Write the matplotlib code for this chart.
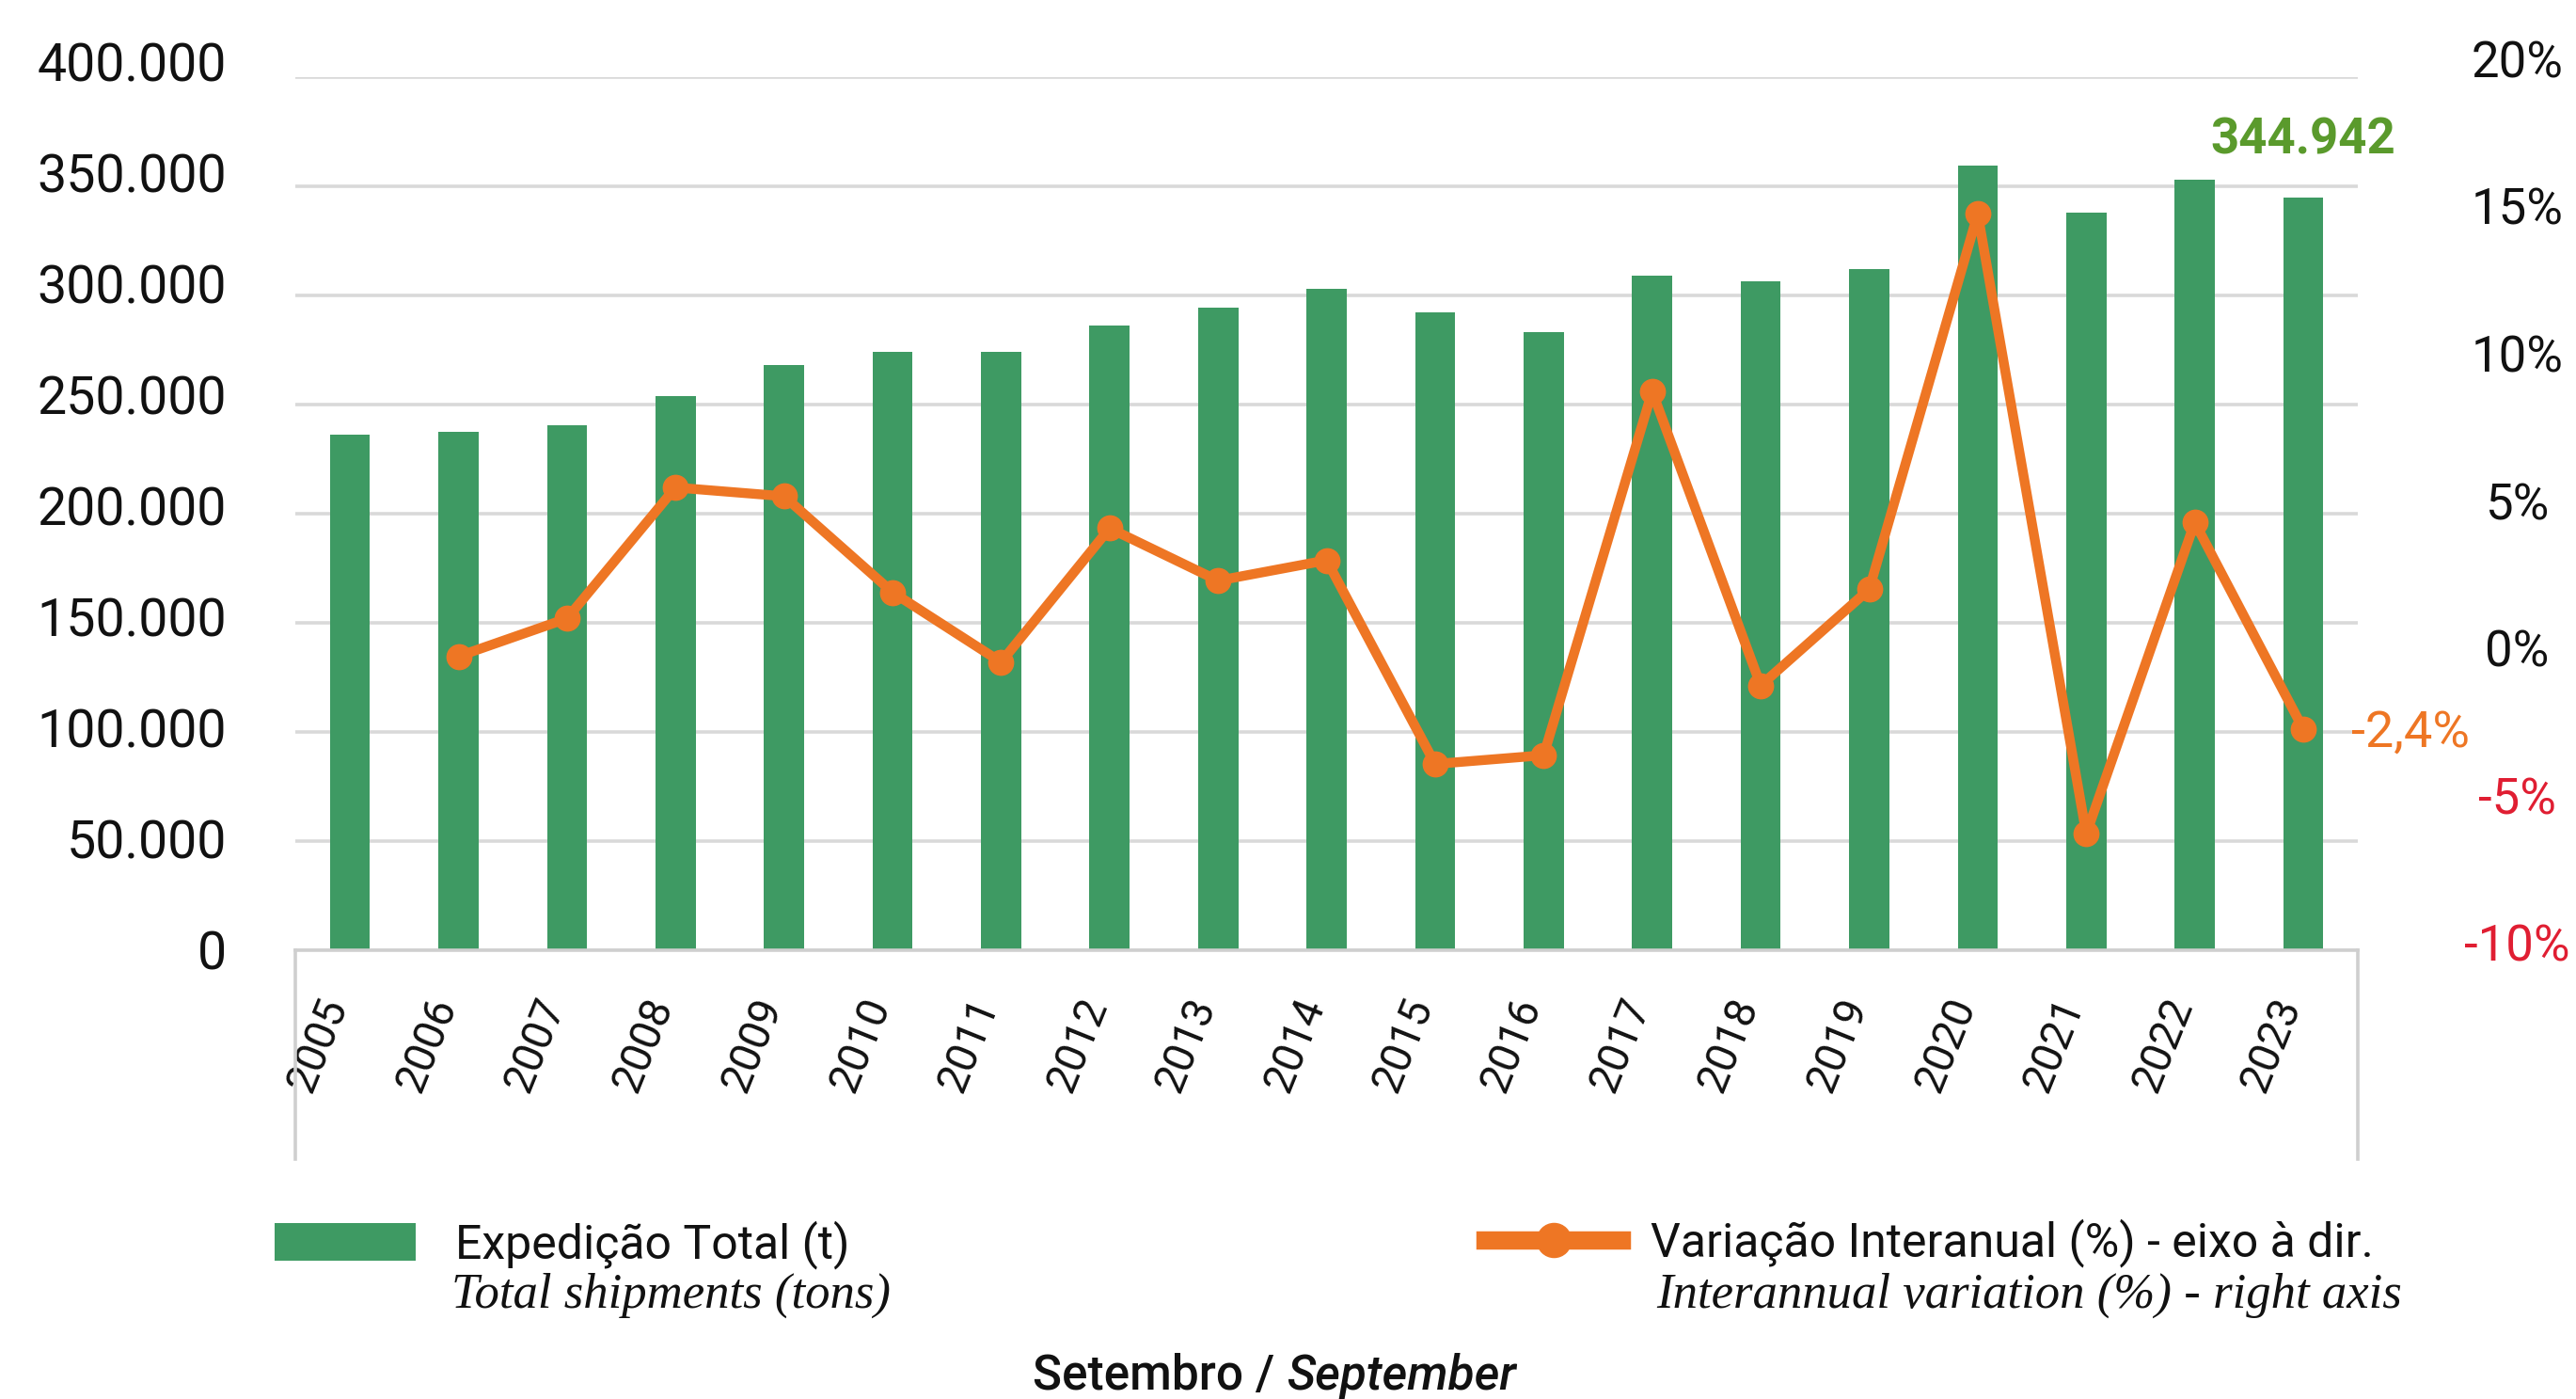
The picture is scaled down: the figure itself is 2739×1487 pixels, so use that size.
import matplotlib
matplotlib.use('Agg')
import matplotlib.pyplot as plt
from matplotlib.lines import Line2D
from matplotlib.transforms import ScaledTranslation
import numpy as np

# ---------------- data ----------------
years = [str(y) for y in range(2005, 2024)]
shipments = [236400, 237500, 240700, 254000, 268000, 274200, 274200, 286200,
             294300, 303200, 292200, 283100, 309100, 306400, 312100, 359300,
             338100, 353000, 344942]
variation = [np.nan, 0.1, 1.4, 5.9, 5.6, 2.3, -0.1, 4.5, 2.7, 3.4, -3.6,
             -3.3, 9.2, -0.9, 2.4, 15.3, -6.0, 4.7, -2.4]
left_ticks = [0, 50000, 100000, 150000, 200000, 250000, 300000, 350000, 400000]
left_labels = ['0', '50.000', '100.000', '150.000', '200.000', '250.000',
               '300.000', '350.000', '400.000']
right_ticks = [-10, -5, 0, 5, 10, 15, 20]
right_labels = ['-10%', '-5%', '0%', '5%', '10%', '15%', '20%']
bar_label = 'Expedição Total (t)'
bar_label_en = 'Total shipments (tons)'
line_label = 'Variação Interanual (%) - eixo à dir.'
line_label_en = 'Interannual variation (%) - right axis'

# ---------------- style ----------------
GREEN = '#3e9a63'
ORANGE = '#ee7624'
DARKGREEN = '#5a9a2c'
RED = '#e01e32'
GRID = '#d9d9d9'
FONT = 'Roboto'
plt.rcParams['font.family'] = [FONT, 'DejaVu Sans']

fig = plt.figure(figsize=(27.39, 14.87), dpi=100)
ax = fig.add_axes([0.1148, 0.3208, 0.8004, 0.624])
x = np.arange(len(years))

ax.bar(x, shipments, width=0.37, color=GREEN, zorder=2, label=bar_label)
ax.set_xlim(-0.5, len(years) - 0.5)
ax.set_ylim(0, 400000)
ax.set_yticks(left_ticks)
ax.set_yticklabels(left_labels)
ax.yaxis.grid(True, color=GRID, linewidth=2.6, zorder=0)
ax.set_axisbelow(True)
for s in ['top', 'right', 'left']:
    ax.spines[s].set_visible(False)
ax.spines['bottom'].set_color('#cfcfcf')
ax.spines['bottom'].set_linewidth(2.6)
ax.tick_params(axis='y', length=0, pad=53, labelsize=40, labelcolor='#111111')
for lab, v in zip(ax.get_yticklabels(), left_ticks):
    lab.set_transform(lab.get_transform() +
                      ScaledTranslation(0, 0.17 * v / 400000, fig.dpi_scale_trans))
ax.set_xticks(x)
ax.set_xticklabels(years, rotation=68, ha='right', va='top')
ax.tick_params(axis='x', length=0, pad=32, labelsize=33, labelcolor='#111111')
for lab in ax.get_xticklabels():
    lab.set_transform(lab.get_transform() + ScaledTranslation(0.06, 0, fig.dpi_scale_trans))

# category box verticals below the axis
for xv in (0, 1):
    ax.plot([xv, xv], [0, -0.239], transform=ax.transAxes, color='#cfcfcf',
            linewidth=2.6, clip_on=False)

# annotation of last bar
ax.annotate(f"{shipments[-1]:,}".replace(',', '.'), xy=(x[-1], shipments[-1]),
            xytext=(0, 44), textcoords='offset points', ha='center', va='center',
            fontsize=38, fontweight='bold', color=DARKGREEN)

# ---------------- right axis ----------------
ax2 = ax.twinx()
ax2.set_ylim(-10, 20)
ax2.plot(x, variation, color=ORANGE, linewidth=7.5, marker='o', markersize=19,
         zorder=3, solid_joinstyle='round')
for s in ax2.spines.values():
    s.set_visible(False)
ax2.set_yticks(right_ticks)
ax2.set_yticklabels(right_labels)
ax2.tick_params(axis='y', length=0, pad=122, labelsize=38)
for lab, v in zip(ax2.get_yticklabels(), right_ticks):
    lab.set_horizontalalignment('center')
    lab.set_color(RED if v < 0 else '#111111')
    dy = 0.08 + 0.12 * (v + 10) / 30
    lab.set_transform(lab.get_transform() + ScaledTranslation(0, dy, fig.dpi_scale_trans))

last = variation[-1]
ax2.annotate(f"{last:.1f}%".replace('.', ','), xy=(x[-1], last),
             xytext=(37, -3), textcoords='offset points', ha='left', va='center',
             fontsize=39, color=ORANGE)

# ---------------- legends ----------------
h_bar = ax.containers[0]
leg1 = fig.legend([h_bar], [bar_label], loc='center left',
                  bbox_to_anchor=(0.1065, 0.1105), frameon=False,
                  borderpad=0, borderaxespad=0, handlelength=3.0,
                  handleheight=0.85, handletextpad=0.85, fontsize=36)
h_line = Line2D([], [], color=ORANGE, linewidth=14, marker='o', markersize=26)
leg2 = fig.legend([h_line], [line_label], loc='center left',
                  bbox_to_anchor=(0.5765, 0.1116), frameon=False,
                  borderpad=0, borderaxespad=0, handlelength=2.9,
                  handletextpad=0.62, fontsize=36)
for t in leg1.get_texts() + leg2.get_texts():
    t.set_color('#111111')

fig.text(0.1754, 0.074, bar_label_en, family=['Liberation Serif', 'DejaVu Serif'],
         style='italic', fontsize=38, ha='left', va='center', color='#111111')
fig.text(0.6429, 0.074, line_label_en, family=['Liberation Serif', 'DejaVu Serif'],
         style='italic', fontsize=38, ha='left', va='center', color='#111111')

fig.text(0.4994, 0.016, 'Setembro / ', fontsize=37, fontweight='medium',
         ha='right', va='center', color='#111111')
fig.text(0.4994, 0.016, 'September', fontsize=37, fontweight='medium',
         style='italic', ha='left', va='center', color='#111111')

fig.savefig('out.png', dpi=100, facecolor='white')
